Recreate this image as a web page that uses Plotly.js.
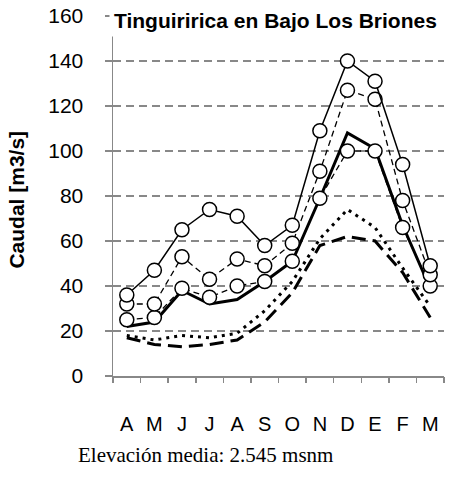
<!DOCTYPE html>
<html><head><meta charset="utf-8">
<script src="https://cdn.plot.ly/plotly-3.0.1.min.js"></script>
<style>body{margin:0;background:#fff}#c{width:450px;height:478px}</style>
</head><body><div id="c"></div>
<script>
var months = ["A","M","J","J","A","S","O","N","D","E","F","M"];
var monthIdx = [0,1,2,3,4,5,6,7,8,9,10,11];
var s1 = [36,47,65,74,71,58,67,109,140,131,94,49];
var s2 = [32,32,53,43,52,49,59,91,127,123,78,45];
var s3 = [25,26,39,35,40,42,51,79,100,100,66,40];
var s4 = [22,24,38,32,34,42,51,79,108,101,67,39];
var s5 = [18,16,18,17,19,29,42,61,74,66,48,31];
var s6 = [17,14,13,14,16,24,37,58,62,60,46,26];
var yTicks = [0,20,40,60,80,100,120,140,160];
var boundaries = [-0.5,0.5,1.5,2.5,3.5,4.5,5.5,6.5,7.5,8.5,9.5,10.5,11.5];

var mk = {symbol:"circle", size:14, color:"#fff", line:{color:"#000", width:1.5}};
var traces = [
 {x:monthIdx, y:s6, mode:"lines", line:{color:"#000", width:3, dash:"14px,7px"}},
 {x:monthIdx, y:s5, mode:"lines", line:{color:"#000", width:3, dash:"3px,5px"}},
 {x:monthIdx, y:s4, mode:"lines", line:{color:"#000", width:3}},
 {x:monthIdx, y:s3, mode:"lines+markers", line:{color:"#000", width:1.3, dash:"6px,4px"}, marker:mk},
 {x:monthIdx, y:s2, mode:"lines+markers", line:{color:"#000", width:1.3, dash:"6px,4px"}, marker:mk},
 {x:monthIdx, y:s1, mode:"lines+markers", line:{color:"#000", width:1.5}, marker:mk},
 {x:[0], y:[0], xaxis:"x2", mode:"markers", marker:{opacity:0}, hoverinfo:"skip"}
];
var layout = {
 width:450, height:478, showlegend:false,
 paper_bgcolor:"#fff", plot_bgcolor:"#fff",
 margin:{l:113, r:6, t:16, b:102},
 xaxis:{range:[-0.5,11.5], tickmode:"array", tickvals:monthIdx, ticktext:months,
   showgrid:false, zeroline:false, showline:true, linecolor:"#888", linewidth:1.5,
   ticks:"", tickfont:{family:"Arial, Liberation Sans", size:20, color:"#000"},
   ticklabelstandoff:29},
 xaxis2:{overlaying:"x", range:[-0.5,11.5], tickmode:"array", tickvals:boundaries,
   showticklabels:false, ticks:"outside", ticklen:6, tickwidth:1.5, tickcolor:"#888", showgrid:false, zeroline:false, anchor:"y", side:"bottom"},
 yaxis:{range:[0,160], tickmode:"array", tickvals:yTicks, showgrid:true, gridcolor:"#888", gridwidth:1.5,
   griddash:"8px,5px", zeroline:false, showline:true, linecolor:"#888", linewidth:1.5,
   ticks:"outside", ticklen:7, tickwidth:1.5, tickcolor:"#888",
   tickfont:{family:"Arial, Liberation Sans", size:21, color:"#000"}, ticklabelstandoff:17},
 annotations:[
  {text:"<b>Tinguiririca en Bajo Los Briones</b>", xref:"paper", yref:"paper", x:0.49, y:1.0, yshift:-4, xanchor:"center", yanchor:"middle",
   showarrow:false, font:{family:"Arial, Liberation Sans", size:21, color:"#000"}, bgcolor:"#fff", borderpad:4},
  {text:"<b>Caudal [m3/s]</b>", xref:"paper", yref:"paper", x:-0.29, xanchor:"center", y:0.49, yanchor:"middle",
   textangle:-90, showarrow:false, font:{family:"Arial, Liberation Sans", size:21, color:"#000"}},
  {text:"Elevación media: 2.545 msnm", xref:"paper", yref:"paper", x:0.278, y:-0.22, xanchor:"center", yanchor:"middle",
   showarrow:false, font:{family:"Times New Roman, Liberation Serif", size:21, color:"#000"}}
 ]
};
Plotly.newPlot("c", traces, layout, {staticPlot:true});
</script></body></html>
